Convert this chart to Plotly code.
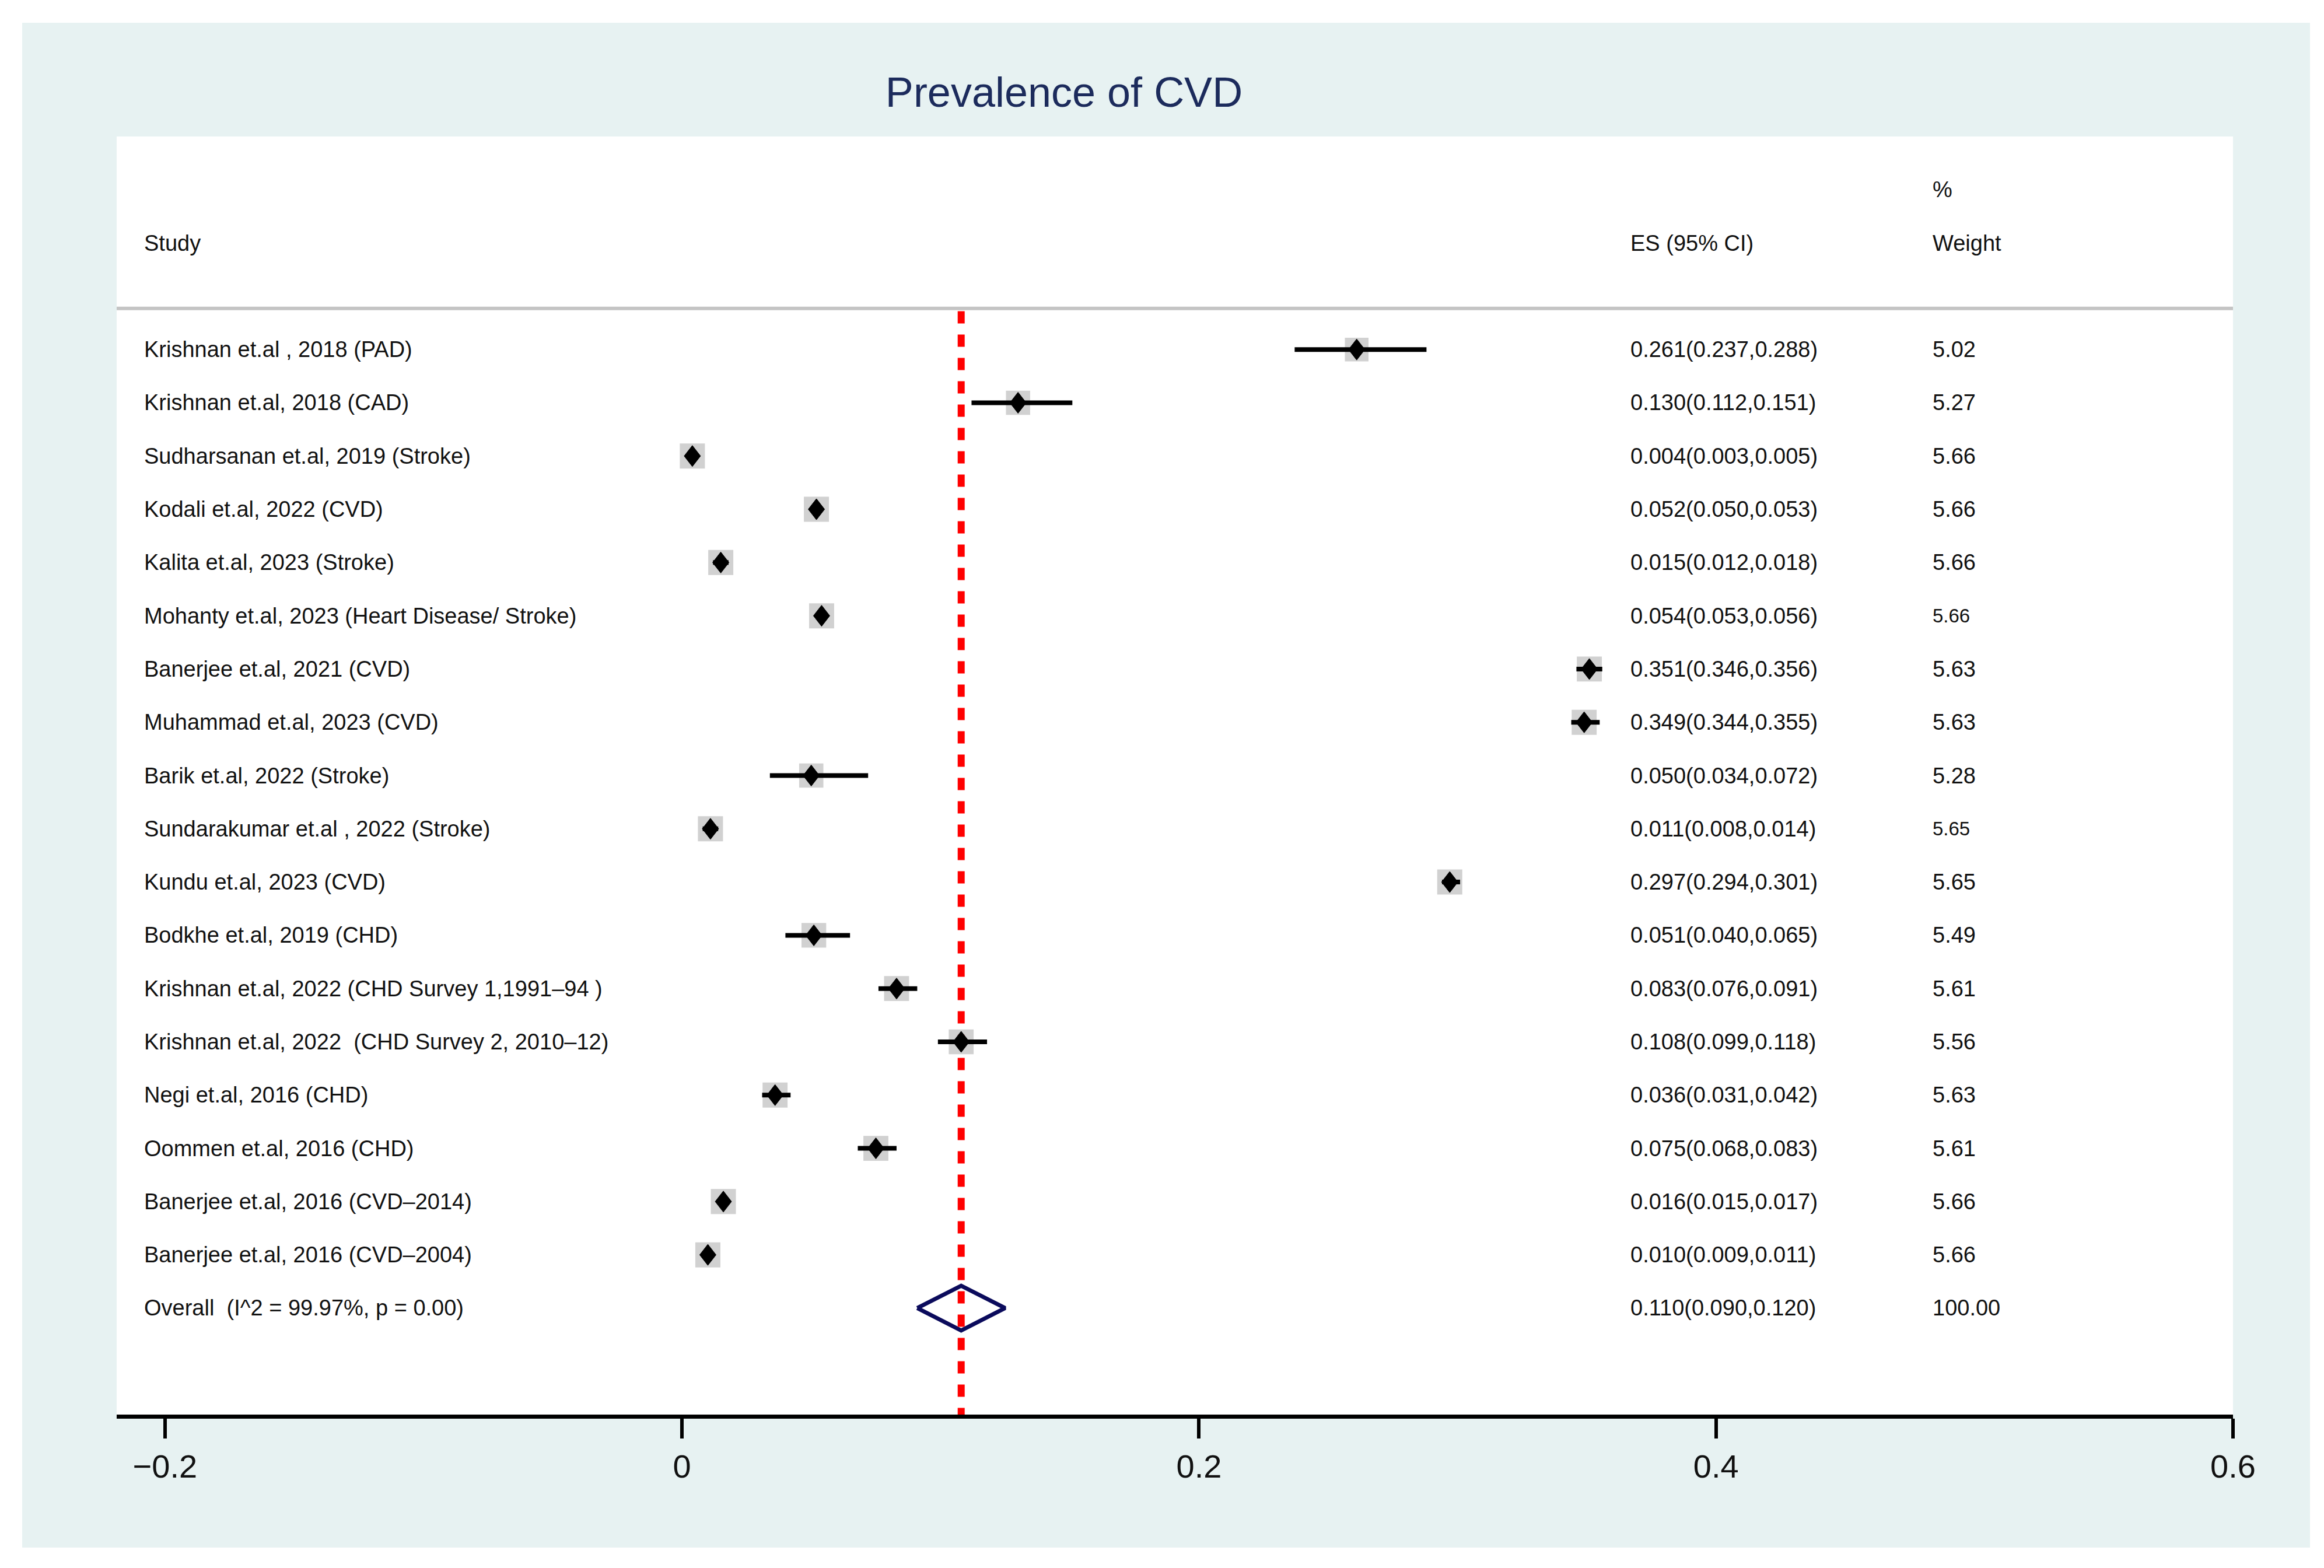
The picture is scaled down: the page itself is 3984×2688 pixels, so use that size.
import math
import plotly.graph_objects as go

# ---------------- data ----------------
studies = [
    "Krishnan et.al , 2018 (PAD)",
    "Krishnan et.al, 2018 (CAD)",
    "Sudharsanan et.al, 2019 (Stroke)",
    "Kodali et.al, 2022 (CVD)",
    "Kalita et.al, 2023 (Stroke)",
    "Mohanty et.al, 2023 (Heart Disease/ Stroke)",
    "Banerjee et.al, 2021 (CVD)",
    "Muhammad et.al, 2023 (CVD)",
    "Barik et.al, 2022 (Stroke)",
    "Sundarakumar et.al , 2022 (Stroke)",
    "Kundu et.al, 2023 (CVD)",
    "Bodkhe et.al, 2019 (CHD)",
    "Krishnan et.al, 2022 (CHD Survey 1,1991\u201394 )",
    "Krishnan et.al, 2022 \u00a0(CHD Survey 2, 2010\u201312)",
    "Negi et.al, 2016 (CHD)",
    "Oommen et.al, 2016 (CHD)",
    "Banerjee et.al, 2016 (CVD\u20132014)",
    "Banerjee et.al, 2016 (CVD\u20132004)",
]
es = [0.261, 0.130, 0.004, 0.052, 0.015, 0.054, 0.351, 0.349, 0.050,
      0.011, 0.297, 0.051, 0.083, 0.108, 0.036, 0.075, 0.016, 0.010]
ci_lo = [0.237, 0.112, 0.003, 0.050, 0.012, 0.053, 0.346, 0.344, 0.034,
         0.008, 0.294, 0.040, 0.076, 0.099, 0.031, 0.068, 0.015, 0.009]
ci_hi = [0.288, 0.151, 0.005, 0.053, 0.018, 0.056, 0.356, 0.355, 0.072,
         0.014, 0.301, 0.065, 0.091, 0.118, 0.042, 0.083, 0.017, 0.011]
weights = [5.02, 5.27, 5.66, 5.66, 5.66, 5.66, 5.63, 5.63, 5.28,
           5.65, 5.65, 5.49, 5.61, 5.56, 5.63, 5.61, 5.66, 5.66]

overall_label = "Overall  (I^2 = 99.97%, p = 0.00)"
overall_es_text = "0.110(0.090,0.120)"
overall_weight_text = "100.00"
overall_es = 0.108      # as drawn
overall_lo = 0.091
overall_hi = 0.125

x_ticks = [-0.2, 0, 0.2, 0.4, 0.6]
title_text = "Prevalence of CVD"

# rows whose weight text is printed smaller in the original
small_weight_rows = [5, 9]

# ---------------- layout geometry (pixels) ----------------
W, H = 3984, 2688
OFF = 8  # page body margin offset compensation
L, R, T, B = 200 - OFF, 156 + OFF, 234 - OFF, 263 + OFF
PW, PH = W - L - R, H - T - B

def px_x(p):   # p = screen pixel
    return (p - OFF - L) / PW

def px_y(p):
    return (H - B - (p - OFF)) / PH

XMIN, XMAX = -0.2187, 0.6
YMAX, YMIN = 21.0, -3.0
ux = (XMAX - XMIN) / PW    # data units per px
uy = (YMAX - YMIN) / PH

FONT = "Liberation Sans, Arial, sans-serif"
TXT = 38
n = len(studies)
rows = list(range(1, n + 1))
overall_row = n + 1

X_STUDY, X_ES, X_W = -0.2085, 0.3665, 0.4834

fig = go.Figure()

# overall diamond
hh = 0.42
fig.add_trace(go.Scatter(
    x=[overall_lo, overall_es, overall_hi, overall_es, overall_lo],
    y=[overall_row, overall_row - hh, overall_row, overall_row + hh, overall_row],
    mode="lines", line=dict(color="#0b0b5c", width=7),
    hoverinfo="skip", showlegend=False))

# overall effect reference line
fig.add_trace(go.Scatter(
    x=[overall_es, overall_es], y=[0.28, 21.2], mode="lines",
    line=dict(color="#ff0000", width=12, dash="21px,19px"),
    hoverinfo="skip", showlegend=False))

# weight boxes
box_sizes = [43 * math.sqrt(w / 5.66) for w in weights]
fig.add_trace(go.Scatter(
    x=es, y=rows, mode="markers",
    marker=dict(symbol="square", size=box_sizes, color="#bdbdbd", line=dict(width=0)),
    hoverinfo="skip", showlegend=False))

# confidence intervals
cx, cy = [], []
for lo, hi, r in zip(ci_lo, ci_hi, rows):
    cx += [lo, hi, None]
    cy += [r, r, None]
fig.add_trace(go.Scatter(x=cx, y=cy, mode="lines",
                         line=dict(color="black", width=8),
                         hoverinfo="skip", showlegend=False))

# point estimates (diamonds, slightly taller than wide)
dw, dh = 14 * ux, 18 * uy
dx, dy = [], []
for e, r in zip(es, rows):
    dx += [e - dw, e, e + dw, e, e - dw, None]
    dy += [r, r - dh, r, r + dh, r, None]
fig.add_trace(go.Scatter(x=dx, y=dy, mode="lines", fill="toself",
                         fillcolor="black", line=dict(color="black", width=1),
                         hoverinfo="skip", showlegend=False))

# ---------------- text ----------------
ann = []
def add_text(x, y, s, size=TXT):
    ann.append(dict(x=x, y=y, xref="x", yref="y", text=s, showarrow=False,
                    xanchor="left", yanchor="middle",
                    font=dict(family=FONT, size=size, color="#111111")))

add_text(X_STUDY, -1, "Study")
add_text(X_ES, -1, "ES (95% CI)")
add_text(X_W, -2, "%")
add_text(X_W, -1, "Weight")

for i, (s, e, lo, hi, w, r) in enumerate(zip(studies, es, ci_lo, ci_hi, weights, rows)):
    add_text(X_STUDY, r, s)
    add_text(X_ES, r, f"{e:.3f}({lo:.3f},{hi:.3f})")
    add_text(X_W, r, f"{w:.2f}", size=33 if i in small_weight_rows else TXT)

add_text(X_STUDY, overall_row, overall_label)
add_text(X_ES, overall_row, overall_es_text)
add_text(X_W, overall_row, overall_weight_text)

# ---------------- shapes ----------------
shapes = [
    dict(type="rect", xref="paper", yref="paper",
         x0=px_x(38), x1=px_x(3960), y0=px_y(2653), y1=px_y(39),
         fillcolor="#e7f2f2", line=dict(width=0), layer="below"),
    dict(type="rect", xref="paper", yref="paper",
         x0=0, x1=1, y0=0, y1=1,
         fillcolor="white", line=dict(width=0), layer="below"),
    dict(type="line", xref="paper", yref="y", x0=0, x1=1, y0=0.23, y1=0.23,
         line=dict(color="#c4c4c4", width=6), layer="below"),
]

fig.update_layout(
    width=W, height=H,
    margin=dict(l=L, r=R, t=T, b=B, pad=0),
    paper_bgcolor="white", plot_bgcolor="white",
    showlegend=False,
    title=dict(text=title_text, x=(1824 - OFF) / W, xref="container", xanchor="center",
               y=1 - (158 - OFF) / H, yref="container", yanchor="middle",
               font=dict(family=FONT, size=72, color="#1c2b5c")),
    annotations=ann, shapes=shapes,
    font=dict(family=FONT),
)
fig.update_xaxes(range=[XMIN, XMAX], tickvals=x_ticks, showgrid=False, zeroline=False,
                 showline=True, linecolor="black", linewidth=7,
                 ticks="outside", ticklen=34, tickwidth=6, tickcolor="black",
                 tickfont=dict(family=FONT, size=56, color="#111111"))
fig.update_yaxes(range=[YMAX, YMIN], visible=False, showgrid=False, zeroline=False)

fig.write_html("out.html")
